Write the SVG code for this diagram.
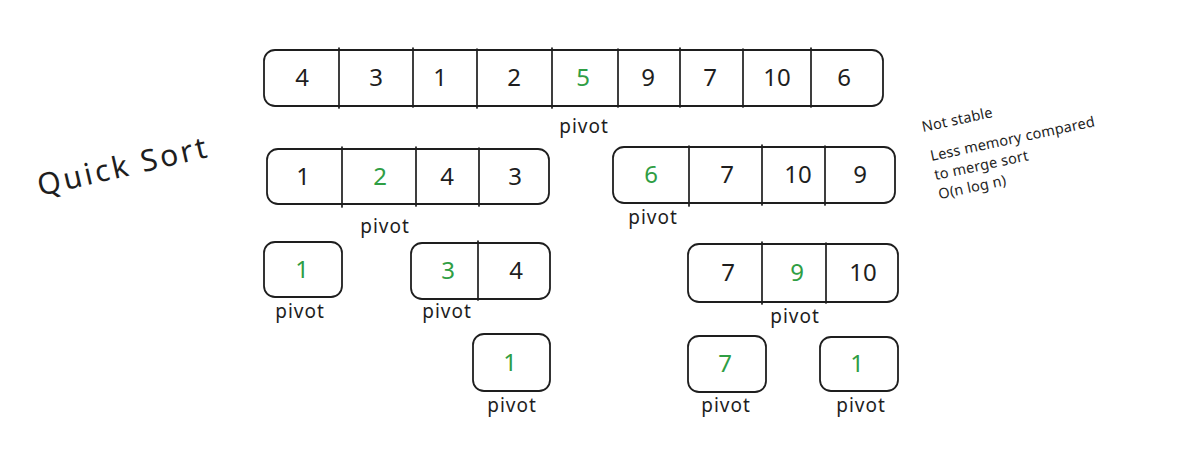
<svg xmlns="http://www.w3.org/2000/svg" width="1200" height="473" viewBox="0 0 1200 473">
<style>
.box{fill:none;stroke:#1e1e1e;stroke-width:1.8;stroke-linejoin:round}
.div{stroke:#1e1e1e;stroke-width:1.7;stroke-linecap:round}
.num{font-family:"Noto Sans","DejaVu Sans",sans-serif;font-size:24px;fill:#1e1e1e;text-anchor:middle}
.piv{fill:#2f9e44}
.lbl{font-family:"Noto Sans","DejaVu Sans",sans-serif;font-size:19px;fill:#1e1e1e;text-anchor:middle;letter-spacing:1px}
.note{font-family:"Noto Sans","DejaVu Sans",sans-serif;font-size:14.5px;fill:#1e1e1e;letter-spacing:0.2px}
.title{font-family:"Noto Sans","DejaVu Sans",sans-serif;font-size:30px;fill:#1e1e1e;letter-spacing:3px}
</style>
<rect width="1200" height="473" fill="#ffffff"/>

<g id="title">
<text class="title" transform="translate(40,196) rotate(-13)">Quick Sort</text>
</g>

<g id="notes">
<text class="note" transform="translate(923,132) rotate(-12)">Not stable</text>
<text class="note" transform="translate(931.5,161) rotate(-12)"><tspan x="0" y="0">Less memory compared</tspan><tspan x="0" y="19.5">to merge sort</tspan><tspan x="0" y="39">O(n log n)</tspan></text>
</g>

<g id="array-full">
<rect class="box" x="264" y="50" width="619" height="56" rx="11"/>
<path class="div" d="M339 48V108M413 48V107M477 49V108M552 48V108M618 49V107M680 48V107M743 49V107M811 48V107"/>
<text class="num" x="302" y="86">4</text>
<text class="num" x="376" y="86">3</text>
<text class="num" x="440" y="86">1</text>
<text class="num" x="514" y="86">2</text>
<text class="num piv" x="583" y="86">5</text>
<text class="num" x="648" y="86">9</text>
<text class="num" x="710" y="86">7</text>
<text class="num" x="777" y="86">10</text>
<text class="num" x="844" y="86">6</text>
<text class="lbl" x="584" y="133">pivot</text>
</g>

<g id="array-left">
<rect class="box" x="267" y="149" width="282" height="55" rx="11"/>
<path class="div" d="M342 147V207M416 147V206M479 148V206"/>
<text class="num" x="303" y="185">1</text>
<text class="num piv" x="380" y="185">2</text>
<text class="num" x="447" y="185">4</text>
<text class="num" x="515" y="185">3</text>
<text class="lbl" x="385" y="233">pivot</text>
</g>

<g id="array-right">
<rect class="box" x="613" y="147" width="282" height="56" rx="11"/>
<path class="div" d="M689 146V206M762 145V205M825 146V205"/>
<text class="num piv" x="651" y="183">6</text>
<text class="num" x="727" y="183">7</text>
<text class="num" x="798" y="183">10</text>
<text class="num" x="860" y="183">9</text>
<text class="lbl" x="653" y="224">pivot</text>
</g>

<g id="single-1a">
<rect class="box" x="264" y="242" width="78" height="55" rx="11"/>
<text class="num piv" x="302" y="278">1</text>
<text class="lbl" x="300" y="318">pivot</text>
</g>

<g id="array-3-4">
<rect class="box" x="411" y="243" width="139" height="56" rx="11"/>
<path class="div" d="M478 241V300"/>
<text class="num piv" x="448" y="279">3</text>
<text class="num" x="516" y="279">4</text>
<text class="lbl" x="447" y="318">pivot</text>
</g>

<g id="array-7-9-10">
<rect class="box" x="688" y="244" width="210" height="58" rx="11"/>
<path class="div" d="M762 242V304M826 243V303"/>
<text class="num" x="728" y="281">7</text>
<text class="num piv" x="797" y="281">9</text>
<text class="num" x="863" y="281">10</text>
<text class="lbl" x="795" y="323">pivot</text>
</g>

<g id="single-1b">
<rect class="box" x="473" y="334" width="77" height="57" rx="11"/>
<text class="num piv" x="510" y="371">1</text>
<text class="lbl" x="512" y="412">pivot</text>
</g>

<g id="single-7">
<rect class="box" x="688" y="336" width="78" height="56" rx="11"/>
<text class="num piv" x="725" y="372">7</text>
<text class="lbl" x="726" y="412">pivot</text>
</g>

<g id="single-1c">
<rect class="box" x="820" y="337" width="78" height="54" rx="11"/>
<text class="num piv" x="857" y="372">1</text>
<text class="lbl" x="861" y="412">pivot</text>
</g>
</svg>
